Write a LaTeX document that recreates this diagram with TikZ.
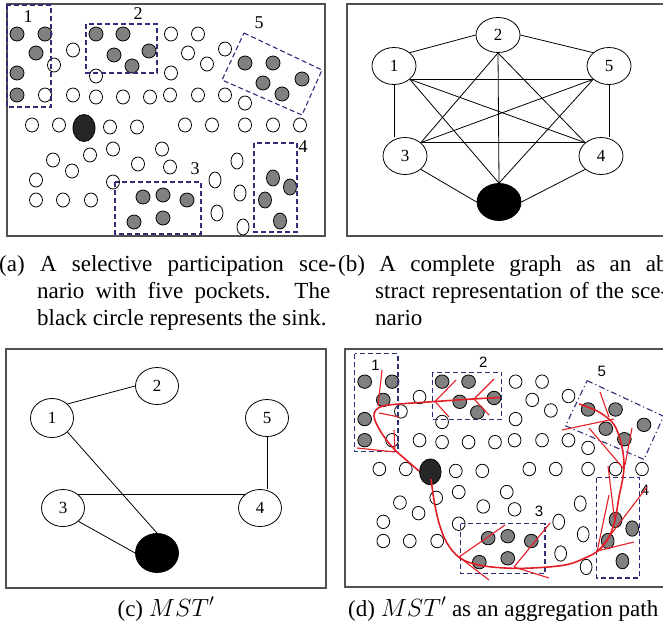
\documentclass[tikz,border=0pt]{standalone}
\usepackage{fontspec}
\setmainfont{Liberation Serif}
\newfontfamily\labsans{Liberation Sans}
\usetikzlibrary{shapes.geometric}
\definecolor{pocketblue}{HTML}{2E2E78}
\definecolor{nodegray}{HTML}{808080}
\definecolor{tracered}{HTML}{E41E26}
\definecolor{framegray}{HTML}{505050}
\tikzset{
  wnode/.style={draw=black,line width=0.8pt,fill=white},
  gnode/.style={draw=black,line width=0.8pt,fill=nodegray},
  sinkfill/.style={draw=black,line width=0.8pt,fill=black!85},
  pocket/.style={draw=pocketblue,line width=1.1pt,dash pattern=on 5pt off 3pt},
  pocketdd/.style={draw=pocketblue,line width=1.1pt,dash pattern=on 6pt off 3pt on 1.2pt off 3pt},
  panel/.style={draw=framegray,line width=1.2pt},
  vtx/.style={ellipse,draw,line width=0.8pt,minimum width=44pt,minimum height=37pt,inner sep=0pt,font=\fontsize{17}{17}\selectfont},
  linkline/.style={line width=0.8pt},
  trunk/.style={draw=tracered,line width=1.6pt},
  twig/.style={draw=tracered,line width=1.1pt},
  lserif/.style={font=\fontsize{18}{18}\selectfont,inner sep=0pt},
  lsans/.style={font=\labsans\fontsize{15}{15}\selectfont,inner sep=0pt},
  captext/.style={anchor=base west,inner sep=0pt,font=\fontsize{23}{27}\selectfont},
}
\newcommand\drawscene[5]{%
  \foreach \px/\py in {45/95,54/65,73/50,96/76,171/34,198/34,188/53,207/64,225/49,171/73,
     73/95,96/97,123/97,150/97,170/95,198/95,225/95,245/103,
     32/125,59/125,110/127,137/127,185/125,212/125,245/125,273/125,300/125,
     113/149,90/155,53/160,72/171,162/149,138/164,170/167,36/180,113/182,36/200,63/200,91/200}
    \draw[wnode] (\px,\py) ellipse [x radius=6.5pt,y radius=7pt];
  \foreach \px/\py in {237/161,215/180,240/193,217/213,243/227}
    \draw[wnode] (\px,\py) ellipse [x radius=6pt,y radius=8pt];
  \foreach \px/\py in {17/34,45/34,36/53,17/73,17/95,96/34,123/34,114/55,149/51,132/66,
     245/63,273/63,263/83,282/94,302/79,143/197,163/195,187/200,134/222,163/218}
    \draw[gnode] (\px,\py) ellipse [x radius=7pt,y radius=7pt];
  \foreach \px/\py in {273/178,290/187,265/200,280/221}
    \draw[gnode] (\px,\py) ellipse [x radius=6.5pt,y radius=8pt];
  \draw[sinkfill] (84,128) ellipse [x radius=11pt,y radius=13.5pt];
  \draw[pocket] (7,5) rectangle (51,107);
  \draw[pocket] (86,24) rectangle (157,73);
  \draw[pocket] (115,182) rectangle (201,234);
  \draw[pocket] (254,#4) rectangle (297,#5);
  \draw[#2] (244,33) -- (322,70) -- (302,115) -- (222,80) -- cycle;
  \node[#1] (#3l1) at (28,17) {1};
  \node[#1] (#3l2) at (138,14) {2};
  \node[#1] (#3l3) at (195,169) {3};
  \node[#1] (#3l4) at (303,147) {4};
  \node[#1] (#3l5) at (259,23) {5};
}
\begin{document}
\begin{tikzpicture}[x=1pt,y=-1pt]
\useasboundingbox (0,0) rectangle (663,630);
\clip (0,0) rectangle (663,630);
\fill[white] (0,0) rectangle (663,630);

% ---------- panel (a)
\draw[panel] (7,4) rectangle (325,236);
\drawscene{lserif}{pocket}{a}{143}{232}

% ---------- panel (b)
\draw[panel] (347,4) rectangle (700,236);
\node[vtx] (b1) at (394,66) {1};
\node[vtx,minimum height=35pt] (b2) at (498,35) {2};
\node[vtx] (b5) at (609,66) {5};
\node[vtx] (b3) at (405,156) {3};
\node[vtx] (b4) at (601,156) {4};
\node[vtx,fill=black] (bs) at (499,202) {};
\draw[linkline] (b1.north east) -- (b2.west);
\draw[linkline] (b2.east) -- (b5.north west);
\draw[linkline] (b1.south) -- (b1.south |- b3.north);
\draw[linkline] (b5.south) -- (b5.south |- b4.north);
\draw[linkline] (b1.south east) -- (b5.south west);
\draw[linkline] (b1.south east) -- (b4.north west);
\draw[linkline] (b1.south east) -- (bs.north);
\draw[linkline] (b2.south) -- (b3.north east);
\draw[linkline] (b2.south) -- (bs.north);
\draw[linkline] (b2.south) -- (b4.north west);
\draw[linkline] (b3.north east) -- (b5.south west);
\draw[linkline] (b3.north east) -- (b4.north west);
\draw[linkline] (b5.south west) -- (bs.north);
\draw[linkline] (b3.south east) -- (bs.west);
\draw[linkline] (b4.south west) -- (bs.east);

% ---------- captions (a), (b)
\node[captext] (capa1) at (-1,271) {\makebox[337pt][s]{(a) A selective participation sce-}};
\node[captext] (capa2) at (37,298) {\makebox[293pt][s]{nario with five pockets. The}};
\node[captext] (capa3) at (37,325) {black circle represents the sink.};
\node[captext] (capb1) at (338,271) {\makebox[337pt][s]{(b) A complete graph as an ab-}};
\node[captext] (capb2) at (375,298) {\makebox[293pt][s]{stract representation of the sce-}};
\node[captext] (capb3) at (375,325) {nario};

% ---------- panel (c)
\draw[panel] (6,349) rectangle (326,588);
\node[vtx,minimum width=43pt,minimum height=39pt] (c1) at (52,418) {1};
\node[vtx,minimum width=43pt] (c2) at (157,386) {2};
\node[vtx,minimum width=43pt] (c5) at (267,418) {5};
\node[vtx,minimum width=43pt] (c3) at (63,508) {3};
\node[vtx,minimum width=43pt] (c4) at (260,508) {4};
\node[vtx,minimum width=43pt,minimum height=39pt,fill=black] (cs) at (157,553) {};
\draw[linkline] (c1.north east) -- (c2.west);
\draw[linkline] (c1.south east) -- (cs.north);
\draw[linkline] (c3.north east) -- (c4.north west);
\draw[linkline] (c5.south) -- (c5.south |- c4.north);
\draw[linkline] (c3.south east) -- (cs.west);

% ---------- panel (d)
\draw[panel] (345,349) rectangle (700,587);
\begin{scope}[shift={(348,349)},xscale=0.98,yscale=0.96]
  \drawscene{lsans}{pocketdd}{d}{134}{238.5}
\end{scope}
% aggregation trunks
\draw[trunk] plot[smooth,tension=0.6] coordinates {(419,471) (404,458) (395,450) (385,438) (377,425) (374,416) (376,410) (383,406) (399,404) (435,401.5) (472,399) (500,397.5)};
\draw[trunk] plot[smooth,tension=0.6] coordinates {(431,479) (434,500) (439,523) (447,543) (460,558) (479,565) (505,568) (532,568) (565,565) (585,558) (599,550) (609,537) (615,520) (619,497) (623,477) (624,463) (622,447) (618,433) (612,422) (599,412) (585,406) (579,404)};
% branches
\draw[twig] (382,370) -- (378,406);
\draw[twig] (379,413) -- (399,417);
\draw[twig] (394,430) -- (395,451);
\draw[twig] (357,448) -- (395,452);
\draw[twig] (435,401.5) -- (456,380);
\draw[twig] (435,401.5) -- (449,417);
\draw[twig] (474,399) -- (494,379);
\draw[twig] (474,399) -- (489,415);
\draw[twig] (600,392) -- (609,417);
\draw[twig] (562,430) -- (614,419);
\draw[twig] (589,428) -- (623,468);
\draw[twig] (632,428) -- (625,465);
\draw[twig] (608,466) -- (615,523);
\draw[twig] (609,495) -- (597,552);
\draw[twig] (647,487) -- (599,550);
\draw[twig] (634,542) -- (597,551);
\draw[twig] (459,557) -- (505,525);
\draw[twig] (459,557) -- (489,580);
\draw[twig] (514,567) -- (550,523);
\draw[twig] (514,567) -- (549,578);

% ---------- captions (c), (d)
\node[captext,anchor=base] (capc) at (166,616) {(c) $MST'$};
\node[captext] (capd) at (348,616) {(d) $MST'$ as an aggregation path};
\end{tikzpicture}
\end{document}
